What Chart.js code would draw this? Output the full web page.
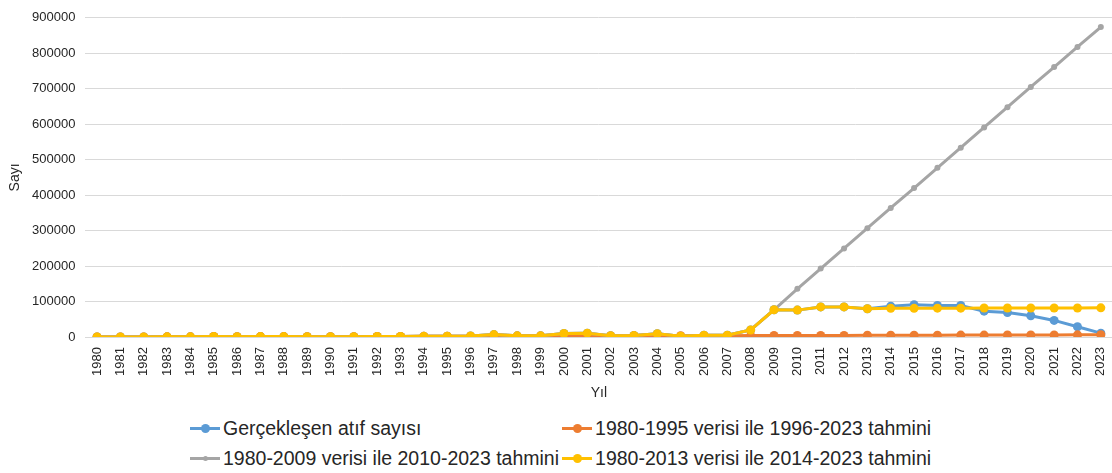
<!DOCTYPE html>
<html>
<head>
<meta charset="utf-8">
<script src="https://cdn.jsdelivr.net/npm/chart.js@4.4.1/dist/chart.umd.min.js"></script>
<style>
  body { margin: 0; background: #fff; font-family: "Liberation Sans", Arial, sans-serif; overflow: hidden; }
  #wrap { position: relative; width: 1112px; height: 473px; overflow: hidden; }
  #box { position: absolute; left: 0; top: 0; width: 1117px; height: 400px; }
  #legend { position: absolute; left: 190px; top: 416px; display: grid; grid-template-columns: auto auto; column-gap: 3px; row-gap: 6px; }
  .item { display: flex; align-items: center; font-size: 19.5px; color: #262626; height: 24px; white-space: nowrap; }
  .sw { position: relative; width: 30px; height: 24px; margin-right: 3px; }
  .sw .ln { position: absolute; left: 0; right: 0; top: 11px; height: 3px; }
  .sw .dt { position: absolute; left: 11px; top: 8px; width: 9px; height: 9px; border-radius: 50%; }
  .sw .dt.sm { left: 13px; top: 10px; width: 5px; height: 5px; }
</style>
</head>
<body>
<div id="wrap">
  <div id="box"><canvas id="grafik"></canvas></div>
  <div id="legend"></div>
</div>
<script>
var yillar = ['1980','1981','1982','1983','1984','1985','1986','1987','1988','1989','1990','1991','1992','1993','1994','1995','1996','1997','1998','1999','2000','2001','2002','2003','2004','2005','2006','2007','2008','2009','2010','2011','2012','2013','2014','2015','2016','2017','2018','2019','2020','2021','2022','2023']

// gercek atif sayisi
var gercek = [300,400,500,600,700,1500,1200,1300,1400,1000,800,900,1500,1800,2000,2200,3000,7000,3500,3500,10000,11000,4000,4500,9500,2500,5000,5500,20000,77000,76000,85000,85000,80000,87000,91000,89000,89000,73000,69000,60000,47000,29000,11000]

// 1980-1995 verisi ile 1996-2023 tahmini
var tahmin95 = [300,400,500,600,700,1500,1200,1300,1400,1000,800,900,1500,1800,2000,2200,2400,2600,2700,2900,3000,3200,3300,3500,3600,3800,3900,4100,4200,4400,4500,4700,4800,5000,5100,5300,5400,5600,5700,5900,6000,6200,6300,6500]

// 1980-2009 verisi ile 2010-2023 tahmini
var tahmin09 = [300,400,500,600,700,1500,1200,1300,1400,1000,800,900,1500,1800,2000,2200,3000,7000,3500,3500,10000,11000,4000,4500,9500,2500,5000,5500,20000,77000,136000,193000,250000,307000,364000,420000,477000,534000,591000,648000,705000,761000,818000,874000]

// 1980-2013 verisi ile 2014-2023 tahmini
var tahmin13 = [300,400,500,600,700,1500,1200,1300,1400,1000,800,900,1500,1800,2000,2200,3000,7000,3500,3500,10000,11000,4000,4500,9500,2500,5000,5500,20000,77000,76000,85000,85000,80000,81000,81000,81500,81500,82000,82000,82000,82000,82000,82500]

var seriler = [
    {label: 'Gerçekleşen atıf sayısı', data: gercek, renk: '#5b9bd5', r: 4.5, order: 3},
    {label: '1980-1995 verisi ile 1996-2023 tahmini', data: tahmin95, renk: '#ed7d31', r: 4.5, order: 2},
    {label: '1980-2009 verisi ile 2010-2023 tahmini', data: tahmin09, renk: '#a5a5a5', r: 3, order: 1},
    {label: '1980-2013 verisi ile 2014-2023 tahmini', data: tahmin13, renk: '#ffc000', r: 4.5, order: 0}
]

var ctx = document.getElementById('grafik')
var grafik = new Chart(ctx, {
    type: 'line',
    data: {
        labels: yillar,
        datasets: seriler.map(function(s){
            return {
                label: s.label,
                data: s.data,
                borderColor: s.renk,
                backgroundColor: s.renk,
                pointBackgroundColor: s.renk,
                pointBorderWidth: 0,
                pointRadius: s.r,
                borderWidth: 3,
                tension: 0,
                order: s.order
            }
        })
    },
    options: {
        responsive: true,
        maintainAspectRatio: false,
        animation: false,
        layout: {
            padding: {top: 8, left: 2, right: 0, bottom: 0}
        },
        plugins: {
            legend: {display: false},
            tooltip: {enabled: false}
        },
        scales: {
            x: {
                offset: true,
                grid: {display: false, drawTicks: false},
                border: {display: true, color: '#d9d9d9', width: 1},
                // excel gibi grafik alani kenara kadar uzasin
                afterFit: function(scale){
                    scale.paddingRight = 0
                    scale.paddingLeft = 0
                },
                ticks: {
                    color: '#262626',
                    font: {family: 'Liberation Sans', size: 13},
                    maxRotation: 90,
                    minRotation: 90,
                    autoSkip: false,
                    padding: 10
                },
                title: {
                    display: true,
                    text: 'Yıl',
                    color: '#262626',
                    font: {family: 'Liberation Sans', size: 14, lineHeight: 1},
                    padding: {top: 0, bottom: 0}
                }
            },
            y: {
                min: 0,
                max: 900000,
                grid: {color: '#d9d9d9', drawTicks: false},
                border: {display: false},
                ticks: {
                    stepSize: 100000,
                    color: '#262626',
                    font: {family: 'Liberation Sans', size: 13},
                    padding: 10,
                    callback: function(val){
                        return val
                    }
                },
                title: {
                    display: true,
                    text: 'Sayı',
                    color: '#262626',
                    font: {family: 'Liberation Sans', size: 14, lineHeight: 1},
                    padding: {top: 6, bottom: 0}
                }
            }
        }
    }
})

// excel tarzi lejant
var lejant = document.getElementById('legend')
seriler.forEach(function(s){
    var el = document.createElement('div')
    el.className = 'item'
    el.innerHTML = '<span class="sw"><span class="ln" style="background:' + s.renk + '"></span><span class="dt' + (s.r < 4 ? ' sm' : '') + '" style="background:' + s.renk + '"></span></span>' + s.label
    lejant.appendChild(el)
})
</script>
</body>
</html>
